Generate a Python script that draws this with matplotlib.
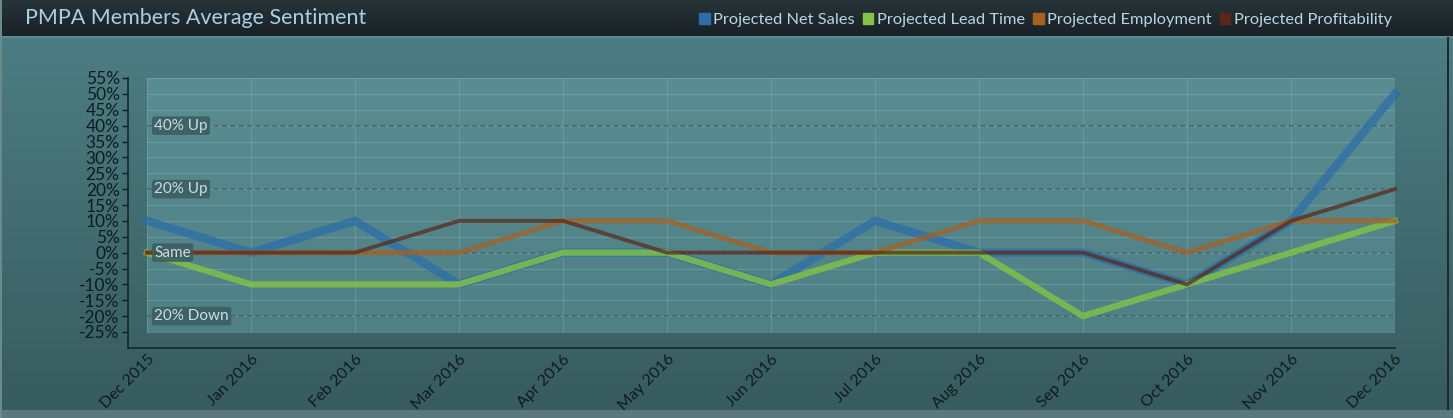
import numpy as np
import matplotlib
matplotlib.use("Agg")
import matplotlib.pyplot as plt
from matplotlib.patches import Rectangle, Patch
from matplotlib.colors import LinearSegmentedColormap

plt.rcParams['font.family'] = ['Lato', 'DejaVu Sans']

# data (percent)
months = ["Dec 2015", "Jan 2016", "Feb 2016", "Mar 2016", "Apr 2016", "May 2016",
          "Jun 2016", "Jul 2016", "Aug 2016", "Sep 2016", "Oct 2016", "Nov 2016", "Dec 2016"]
net_sales = [10, 0, 10, -10, 0, 0, -10, 10, 0, 0, -10, 10, 50]
lead_time = [0, -10, -10, -10, 0, 0, -10, 0, 0, -20, -10, 0, 10]
employment = [0, 0, 0, 0, 10, 10, 0, 0, 10, 10, 0, 10, 10]
profitability = [0, 0, 0, 10, 10, 0, 0, 0, 0, 0, -10, 10, 20]
ref_levels = [40, 20, 0, -20]
ref_labels = ["40% Up", "20% Up", "Same", "20% Down"]

W, H = 1453, 418
fig = plt.figure(figsize=(W / 100, H / 100), dpi=100)

# background gradient + title bar
bg = fig.add_axes([0, 0, 1, 1], zorder=-10)
bg.axis("off")
cmap_bg = LinearSegmentedColormap.from_list("bg", ["#4c7d82", "#375b5e"])
grad = np.linspace(0, 1, 256).reshape(-1, 1)
bg.imshow(grad, cmap=cmap_bg, extent=(0, W, H, 37), aspect="auto")
cmap_title = LinearSegmentedColormap.from_list("tb", ["#283438", "#182125"])
bg.imshow(grad, cmap=cmap_title, extent=(0, W, 37, 0), aspect="auto")
bg.add_patch(Rectangle((0, 36), W, 2, color="#5d8a90", lw=0))
bg.add_patch(Rectangle((0, 410), W, 8, color="#5a787e", lw=0))
bg.add_patch(Rectangle((0, 0), 2, H, color="#6a8a90", lw=0))
bg.add_patch(Rectangle((1447, 37), 2, 373, color="#1e2b2e", lw=0))
bg.set_xlim(0, W)
bg.set_ylim(H, 0)

fig.text(25 / W, 1 - 18 / H, "PMPA Members Average Sentiment", color="#a9cfe3",
         fontsize=15.5, va="center", ha="left")

# main axes: x from px 128 to 1395, y from px 78 (55%) to 348 (~-30%)
ymin = -25 - 16 / (254 / 80)
ax = fig.add_axes([128 / W, 1 - 348 / H, (1395 - 128) / W, (348 - 78) / H])
ax.patch.set_alpha(0)
x = np.arange(len(months))
ax.set_xlim(-19 / 104, 12)
ax.set_ylim(ymin, 55)

cmap_pa = LinearSegmentedColormap.from_list("pa", ["#5a8d92", "#4e8085"])
ax.imshow(grad, cmap=cmap_pa, extent=(0, 12, -25, 55), aspect="auto", zorder=0)

for yv in range(-25, 56, 5):
    ax.plot([0, 12], [yv, yv], color="#8fc0c4", lw=0.8, alpha=0.35, zorder=1)
for xv in x:
    ax.plot([xv, xv], [-25, 55], color="#8fc0c4", lw=0.8, alpha=0.3, zorder=1)
for yv in ref_levels:
    ax.plot([0, 12], [yv, yv], color="#4a5f63", lw=1.2, ls=(0, (3, 2)), alpha=0.8, zorder=1)

series = [
    ("Projected Net Sales", net_sales, "#2a6eaa", 6.0, 0.7),
    ("Projected Lead Time", lead_time, "#84c444", 4.5, 0.8),
    ("Projected Employment", employment, "#a9601f", 3.6, 0.72),
    ("Projected Profitability", profitability, "#5b2718", 2.8, 0.72),
]
for i, (name, vals, col, lw, al) in enumerate(series):
    ax.plot(x, vals, color=col, lw=lw, alpha=al, solid_joinstyle="miter",
            zorder=3 + i, clip_on=False)

for yv, lab in zip(ref_levels, ref_labels):
    ax.text(0.07, yv, lab, color="#c9dfe6", fontsize=11, va="center", ha="left", zorder=10,
            bbox=dict(boxstyle="round,pad=0.15", fc="#3b5c60", ec="none", alpha=0.85))

ax.set_yticks(range(-25, 56, 5))
ax.set_yticklabels([f"{v}%" for v in range(-25, 56, 5)])
ax.set_xticks(x)
ax.set_xticklabels(months, rotation=45, ha="right", va="top", rotation_mode="anchor")
ax.tick_params(axis="y", colors="#0e1c1f", labelsize=12.5, length=4, width=1, pad=2)
ax.tick_params(axis="x", colors="#0e1c1f", labelsize=11.5, length=0, pad=3)
for s in ["top", "right"]:
    ax.spines[s].set_visible(False)
for s in ["left", "bottom"]:
    ax.spines[s].set_color("#16272a")
    ax.spines[s].set_linewidth(1.2)

handles = [Patch(color=c) for _, _, c, _, _ in series]
fig.legend(handles, [s[0] for s in series], loc="center right",
           bbox_to_anchor=(1400 / W, 1 - 20 / H), ncol=4, frameon=False,
           fontsize=11.8, labelcolor="#b9d5e2", handlelength=0.65, handleheight=0.65,
           handletextpad=0.2, columnspacing=0.5, borderpad=0)

fig.savefig("out.png", dpi=100)
